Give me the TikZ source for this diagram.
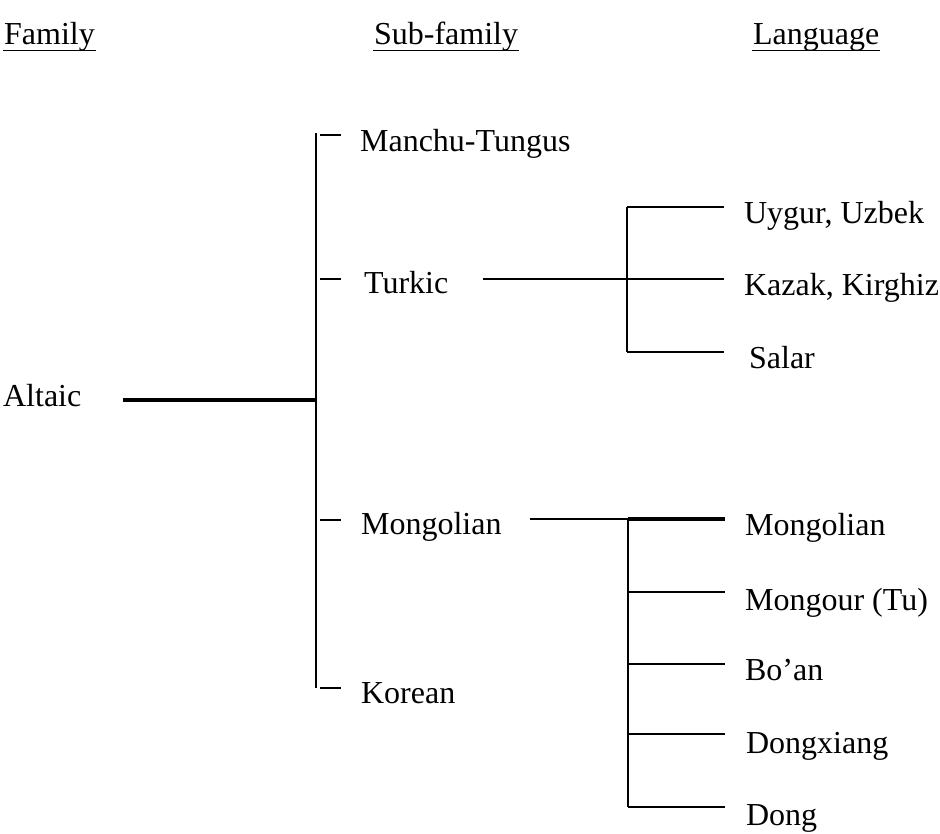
\documentclass[tikz,border=0pt]{standalone}
\usepackage{fontspec}
\setmainfont{Liberation Serif}

\tikzset{every picture/.style={line width=1.7pt}}
\tikzset{lbl/.style={anchor=base west, inner sep=0pt, font=\fontsize{24}{29}\selectfont}}
\tikzset{uline/.style={line width=1.2pt}}

\begin{document}
\begin{tikzpicture}[x=0.75pt,y=0.75pt,yscale=-1]
\useasboundingbox (0,0) rectangle (940,833);

% column heads
\node (hfam) [lbl] at (3,44) {Family};
\node (hsub) [lbl] at (373,44) {Sub-family};
\node (hlang) [lbl] at (752,44) {Language};
\draw [uline] ([yshift=5pt]hfam.base west) -- ([yshift=5pt]hfam.base east);
\draw [uline] ([yshift=5pt]hsub.base west) -- ([yshift=5pt]hsub.base east);
\draw [uline] ([yshift=5pt]hlang.base west) -- ([yshift=5pt]hlang.base east);

% family
\node (altaic) [lbl] at (2,406) {Altaic};
\coordinate (altaicOut) at (123,400);
\coordinate (spineTop) at (316,133);
\coordinate (spineMid) at (316,400);
\coordinate (spineBot) at (316,688);
\draw [line width=2.4pt] (altaicOut) -- (spineMid);
\draw (spineTop) -- (spineBot);

% sub-families
\node (manchu) [lbl] at (359,151) {Manchu-Tungus};
\node (turkic) [lbl] at (363,293) {Turkic};
\node (mongol) [lbl] at (360,534) {Mongolian};
\node (korean) [lbl] at (360,703) {Korean};
\coordinate (tkManchuA) at (320,135);  \coordinate (tkManchuB) at (341,135);
\coordinate (tkTurkicA) at (320,279);  \coordinate (tkTurkicB) at (341,279);
\coordinate (tkMongolA) at (320,520);  \coordinate (tkMongolB) at (341,520);
\coordinate (tkKoreanA) at (320,688);  \coordinate (tkKoreanB) at (341,688);
\draw (tkManchuA) -- (tkManchuB);
\draw (tkTurkicA) -- (tkTurkicB);
\draw (tkMongolA) -- (tkMongolB);
\draw (tkKoreanA) -- (tkKoreanB);

% Turkic languages
\coordinate (turkicOut) at (483,279);
\coordinate (turkicJoin) at (627,279);
\coordinate (turkicTop) at (627,207);
\coordinate (turkicBot) at (627,352);
\draw (turkicOut) -- (turkicJoin);
\draw (turkicTop) -- (turkicBot);
\node (uygur) [lbl] at (743,223) {Uygur, Uzbek};
\node (kazak) [lbl] at (743,295) {Kazak, Kirghiz};
\node (salar) [lbl] at (748,368) {Salar};
\coordinate (uygurIn) at (724,207);
\coordinate (kazakIn) at (724,279);
\coordinate (salarIn) at (724,352);
\draw (turkicTop) -- (uygurIn);
\draw (turkicJoin) -- (kazakIn);
\draw (turkicBot) -- (salarIn);

% Mongolian languages
\coordinate (mongolOut) at (530,519);
\coordinate (mongolTop) at (628,519);
\coordinate (mongolBot) at (628,807);
\draw (mongolOut) -- (mongolTop);
\draw (mongolTop) -- (mongolBot);
\node (mongolL) [lbl] at (744,535) {Mongolian};
\node (mongour) [lbl] at (744,610) {Mongour (Tu)};
\node (boan) [lbl] at (744,680) {Bo’an};
\node (dongx) [lbl] at (745,753) {Dongxiang};
\node (dong) [lbl] at (745,825) {Dong};
\coordinate (mongolLIn) at (725,519);
\coordinate (mongourIn) at (725,592);
\coordinate (boanIn) at (725,664);
\coordinate (dongxIn) at (725,734);
\coordinate (dongIn) at (725,807);
\draw [line width=2.4pt] (mongolTop) -- (mongolLIn);
\draw (mongolTop |- mongourIn) -- (mongourIn);
\draw (mongolTop |- boanIn) -- (boanIn);
\draw (mongolTop |- dongxIn) -- (dongxIn);
\draw (mongolBot) -- (dongIn);

\end{tikzpicture}
\end{document}
